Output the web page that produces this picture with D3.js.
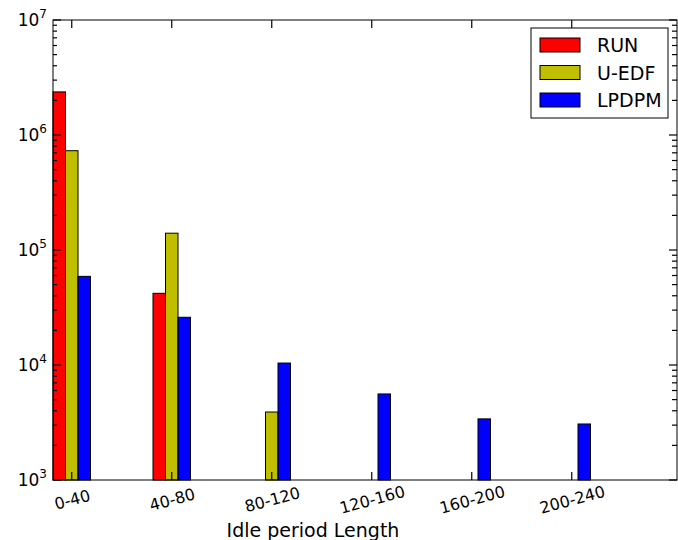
<!DOCTYPE html>
<html><head><meta charset="utf-8">
<script src="https://cdn.jsdelivr.net/npm/d3@7"></script>
<style>body{margin:0;background:#fff}text{font-family:"DejaVu Sans",sans-serif}</style>
</head><body>
<script>
var categories = ['0-40', '40-80', '80-120', '120-160', '160-200', '200-240'];
var seriesNames = ['RUN', 'U-EDF', 'LPDPM'];
var seriesColors = ['#ff0000', '#bfbf00', '#0000ff'];
var runValues = [2370000, 42000, null, null, null, null];
var uedfValues = [730000, 140000, 3900, null, null, null];
var lpdpmValues = [59000, 26000, 10400, 5600, 3400, 3070];
var yTicks = [1e3, 1e4, 1e5, 1e6, 1e7];

var W = 678, H = 540, m = {l: 53, t: 20, r: 1, b: 60};
var svg = d3.select('body').append('svg').attr('width', W).attr('height', H);
var x = d3.scaleLinear().domain([0, 6.24]).range([m.l, W - m.r]);
var y = d3.scaleLog().domain([1e3, 1e7]).range([H - m.b, m.t]);
var bw = 0.125;

var all = [runValues, uedfValues, lpdpmValues];
all.forEach(function(vals, k) {
  svg.selectAll('.b' + k).data(vals.map(function(v, i) { return {v: v, i: i}; }).filter(function(d) { return d.v; }))
    .enter().append('rect')
    .attr('x', function(d) { return x(d.i + k * bw); })
    .attr('width', x(bw) - x(0))
    .attr('y', function(d) { return y(d.v); })
    .attr('height', function(d) { return y(1e3) - y(d.v); })
    .attr('fill', seriesColors[k]).attr('stroke', '#000').attr('stroke-width', 1);
});

// minor ticks
var minors = [];
for (var e = 3; e < 7; e++) for (var j = 2; j < 10; j++) minors.push(j * Math.pow(10, e));
var g = svg.append('g').attr('stroke', '#000').attr('stroke-width', 1.2);
minors.forEach(function(v) {
  g.append('line').attr('x1', m.l).attr('x2', m.l + 4).attr('y1', y(v)).attr('y2', y(v));
  g.append('line').attr('x1', W - m.r).attr('x2', W - m.r - 5).attr('y1', y(v)).attr('y2', y(v));
});
yTicks.forEach(function(v) {
  g.append('line').attr('x1', m.l).attr('x2', m.l + 8).attr('y1', y(v)).attr('y2', y(v));
  g.append('line').attr('x1', W - m.r).attr('x2', W - m.r - 8).attr('y1', y(v)).attr('y2', y(v));
  var t = svg.append('text').attr('x', m.l - 6).attr('y', y(v) + 6).attr('text-anchor', 'end').attr('font-size', 17);
  t.append('tspan').text('10');
  t.append('tspan').attr('dy', -8).attr('font-size', 12).text(Math.round(Math.log10(v)));
});
categories.forEach(function(c, i) {
  var cx = x(i + 1.5 * bw);
  g.append('line').attr('x1', cx).attr('x2', cx).attr('y1', y(1e3)).attr('y2', y(1e3) - 8);
  g.append('line').attr('x1', cx).attr('x2', cx).attr('y1', m.t).attr('y2', m.t + 8);
  svg.append('text').attr('transform', 'translate(' + (cx + 2) + ',' + (y(1e3) + 25) + ') rotate(-15)')
    .attr('text-anchor', 'middle').attr('font-size', 16).text(c);
});
svg.append('rect').attr('x', m.l).attr('y', m.t).attr('width', W - m.r - m.l).attr('height', y(1e3) - m.t)
  .attr('fill', 'none').attr('stroke', '#000').attr('stroke-width', 1);
svg.append('text').attr('x', 313).attr('y', 537).attr('text-anchor', 'middle').attr('font-size', 19).text('Idle period Length');

var lg = svg.append('g');
lg.append('rect').attr('x', 531).attr('y', 28).attr('width', 137).attr('height', 90).attr('fill', '#fff').attr('stroke', '#000');
seriesNames.forEach(function(s, k) {
  var yy = 45 + k * 27.5;
  lg.append('rect').attr('x', 540).attr('y', yy - 7).attr('width', 40).attr('height', 14).attr('fill', seriesColors[k]).attr('stroke', '#000');
  lg.append('text').attr('x', 597).attr('y', yy + 7).attr('font-size', 19).text(s);
});
</script>
</body></html>
